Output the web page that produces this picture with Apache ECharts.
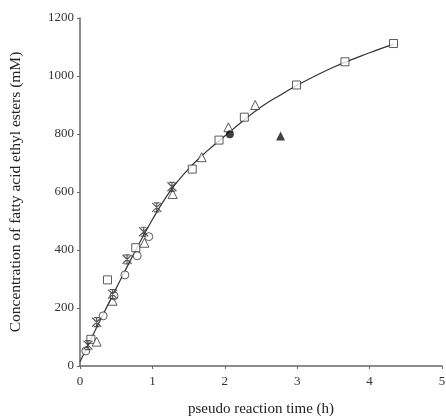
<!DOCTYPE html>
<html>
<head>
<meta charset="utf-8">
<script src="https://cdn.jsdelivr.net/npm/echarts@6/dist/echarts.min.js"></script>
<style>
  html, body { margin: 0; padding: 0; background: #fff; }
  #chart { width: 446px; height: 419px; }
</style>
</head>
<body>
<div id="chart"></div>
<script>
// 各组实验数据 (x: h, y: mM)
const squareData = [[0.15, 92], [0.38, 297], [0.77, 408], [1.55, 679], [1.92, 779], [2.27, 858], [2.99, 969], [3.66, 1049], [4.33, 1112]]
const triangleData = [[0.23, 84], [0.45, 225], [0.89, 425], [1.28, 593], [1.68, 720], [2.05, 823], [2.42, 900]]
const circleData = [[0.08, 52], [0.32, 173], [0.47, 242], [0.62, 314], [0.79, 380], [0.95, 446]]
const starData = [[0.11, 72], [0.23, 151], [0.45, 248], [0.65, 368], [0.88, 463], [1.06, 547], [1.27, 618]]
const filledCircleData = [[2.07, 799]]
const filledTriangleData = [[2.77, 793]]
// 拟合曲线
const fitData = [[0, 15], [0.25, 143], [0.5, 268], [0.75, 390], [1.0, 505], [1.25, 605], [1.5, 680], [1.75, 740], [2.0, 793], [2.25, 845], [2.5, 893], [2.75, 932], [3.0, 968], [3.5, 1030], [4.0, 1080], [4.33, 1110]]

const xName = 'pseudo reaction time (h)'
const yName = 'Concentration of fatty acid ethyl esters (mM)'

const font = 'Liberation Serif'
const starPath = 'path://M0,0L10,10M10,0L0,10M5,0L5,10M2,0L8,0M2,10L8,10'

const openStyle = { color: '#fff', borderColor: '#333', borderWidth: 1 }

const myChart = echarts.init(document.getElementById('chart'))
myChart.setOption({
  animation: false,
  grid: { left: 80, top: 18, width: 362, height: 348, outerBoundsMode: 'none', containLabel: false },
  xAxis: {
    type: 'value',
    min: 0,
    max: 5,
    interval: 1,
    name: xName,
    nameLocation: 'middle',
    nameGap: 36,
    nameTextStyle: { fontFamily: font, fontSize: 15, color: '#222' },
    axisLine: { lineStyle: { color: '#666', width: 1.5 } },
    axisTick: { show: true, length: 3, lineStyle: { color: '#666' } },
    axisLabel: { fontFamily: font, fontSize: 13, color: '#333', margin: 9 },
    splitLine: { show: false }
  },
  yAxis: {
    type: 'value',
    min: 0,
    max: 1200,
    interval: 200,
    name: yName,
    nameLocation: 'middle',
    nameGap: 56,
    nameTextStyle: { fontFamily: font, fontSize: 15.5, color: '#222' },
    axisLine: { show: true, lineStyle: { color: '#666', width: 1.5 } },
    axisTick: { show: true, length: 3, lineStyle: { color: '#666' } },
    axisLabel: { fontFamily: font, fontSize: 13, color: '#333', margin: 6, formatter: v => String(v) },
    splitLine: { show: false }
  },
  series: [
    {
      type: 'line',
      data: fitData,
      smooth: 0.4,
      symbol: 'none',
      lineStyle: { color: '#333', width: 1.2 },
      z: 1
    },
    { type: 'scatter', data: squareData, symbol: 'rect', symbolSize: 8, itemStyle: openStyle, z: 3 },
    { type: 'scatter', data: triangleData, symbol: 'triangle', symbolSize: 9, itemStyle: openStyle, z: 3 },
    { type: 'scatter', data: circleData, symbol: 'circle', symbolSize: 8, itemStyle: openStyle, z: 3 },
    { type: 'scatter', data: starData, symbol: starPath, symbolSize: 9, itemStyle: { color: 'none', borderColor: '#333', borderWidth: 1.2 }, z: 4 },
    { type: 'scatter', data: filledCircleData, symbol: 'circle', symbolSize: 8, itemStyle: { color: '#111' }, z: 4 },
    { type: 'scatter', data: filledTriangleData, symbol: 'triangle', symbolSize: 9, itemStyle: { color: '#111' }, z: 4 }
  ]
})
</script>
</body>
</html>
